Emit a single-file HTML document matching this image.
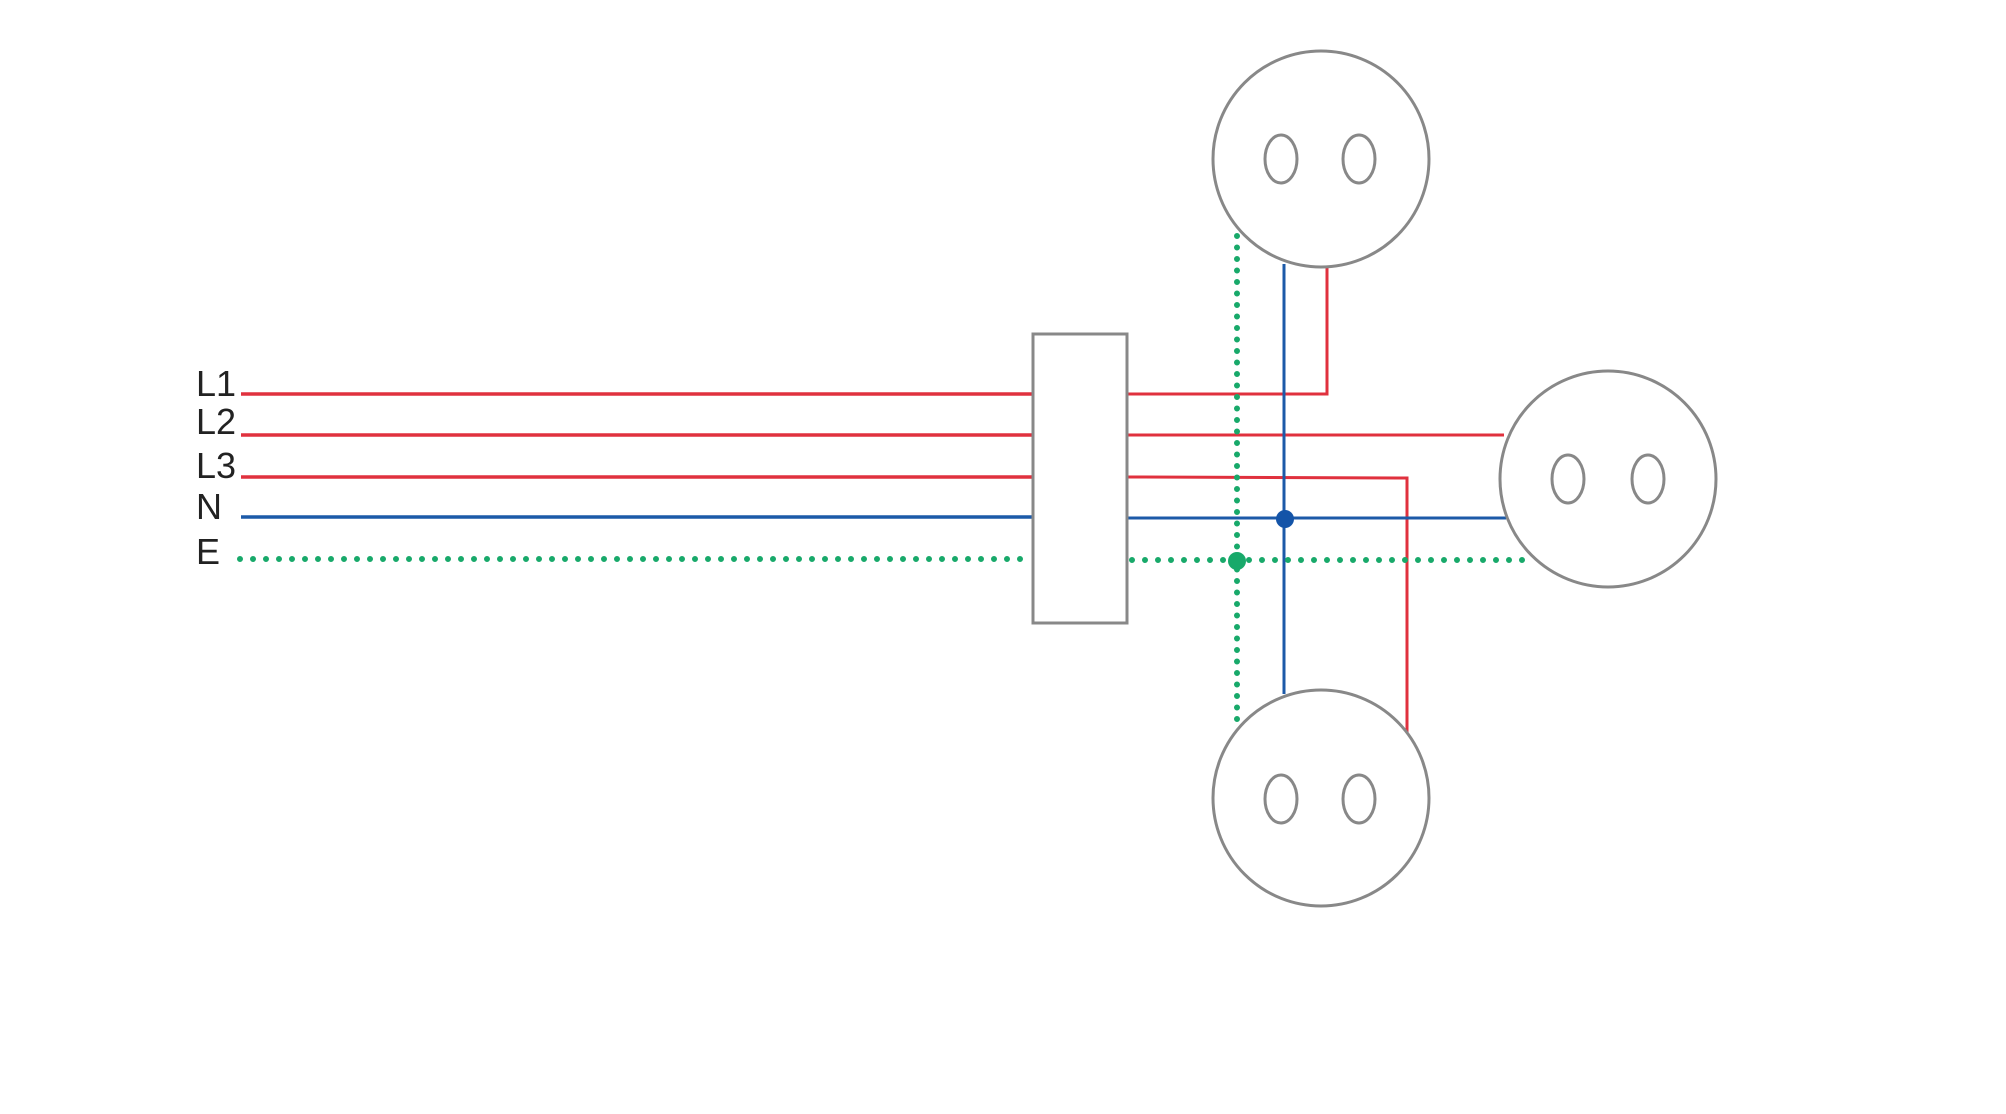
<!DOCTYPE html>
<html><head><meta charset="utf-8"><style>
html,body{margin:0;padding:0;background:#fff;}
svg{display:block;}
text{font-family:"Liberation Sans",sans-serif;font-size:36px;fill:#222;}
</style></head><body>
<svg width="2006" height="1114" viewBox="0 0 2006 1114" xmlns="http://www.w3.org/2000/svg">
<g transform="translate(-4,-2)">
<g stroke-linecap="butt" fill="none">
<line x1="245" y1="396" x2="1036" y2="396" stroke="#e0313e" stroke-width="3.5"/>
<line x1="245" y1="437" x2="1036" y2="437" stroke="#e0313e" stroke-width="3.5"/>
<line x1="245" y1="479" x2="1036" y2="479" stroke="#e0313e" stroke-width="3.5"/>
<line x1="245" y1="519" x2="1036" y2="519" stroke="#1c5aa8" stroke-width="3.5"/>
<line x1="244" y1="561" x2="1036" y2="561" stroke="#18a96a" stroke-width="6" stroke-linecap="round" stroke-dasharray="0 13"/>
<polyline points="1132,396 1331,396 1331,268" stroke="#e0313e" stroke-width="3"/>
<line x1="1132" y1="437" x2="1508" y2="437" stroke="#e0313e" stroke-width="3"/>
<polyline points="1132,479 1411,480 1411,735" stroke="#e0313e" stroke-width="3"/>
<line x1="1132" y1="520" x2="1510" y2="520" stroke="#1c5aa8" stroke-width="3"/>
<line x1="1288" y1="266" x2="1288" y2="696" stroke="#1c5aa8" stroke-width="3"/>
<line x1="1136" y1="562" x2="1530" y2="562" stroke="#18a96a" stroke-width="6" stroke-linecap="round" stroke-dasharray="0 13"/>
<line x1="1241" y1="238" x2="1241" y2="728" stroke="#18a96a" stroke-width="6" stroke-linecap="round" stroke-dasharray="0 11.5"/>
<rect x="1037" y="336" width="94" height="289" fill="#fff" stroke="#888" stroke-width="3"/>
<circle cx="1325" cy="161" r="108" fill="#fff" stroke="#888" stroke-width="3"/>
<ellipse cx="1285" cy="161" rx="16" ry="24" stroke="#888" stroke-width="3"/>
<ellipse cx="1363" cy="161" rx="16" ry="24" stroke="#888" stroke-width="3"/>
<circle cx="1612" cy="481" r="108" fill="#fff" stroke="#888" stroke-width="3"/>
<ellipse cx="1572" cy="481" rx="16" ry="24" stroke="#888" stroke-width="3"/>
<ellipse cx="1652" cy="481" rx="16" ry="24" stroke="#888" stroke-width="3"/>
<circle cx="1325" cy="800" r="108" fill="#fff" stroke="#888" stroke-width="3"/>
<ellipse cx="1285" cy="801" rx="16" ry="24" stroke="#888" stroke-width="3"/>
<ellipse cx="1363" cy="801" rx="16" ry="24" stroke="#888" stroke-width="3"/>
</g>
<circle cx="1289" cy="521" r="9" fill="#1454a8"/>
<circle cx="1241" cy="563" r="9" fill="#18a96a"/>
<text x="200" y="398">L1</text>
<text x="200" y="436">L2</text>
<text x="200" y="480">L3</text>
<text x="200" y="521">N</text>
<text x="200" y="566">E</text>
</g>
</svg>
</body></html>
